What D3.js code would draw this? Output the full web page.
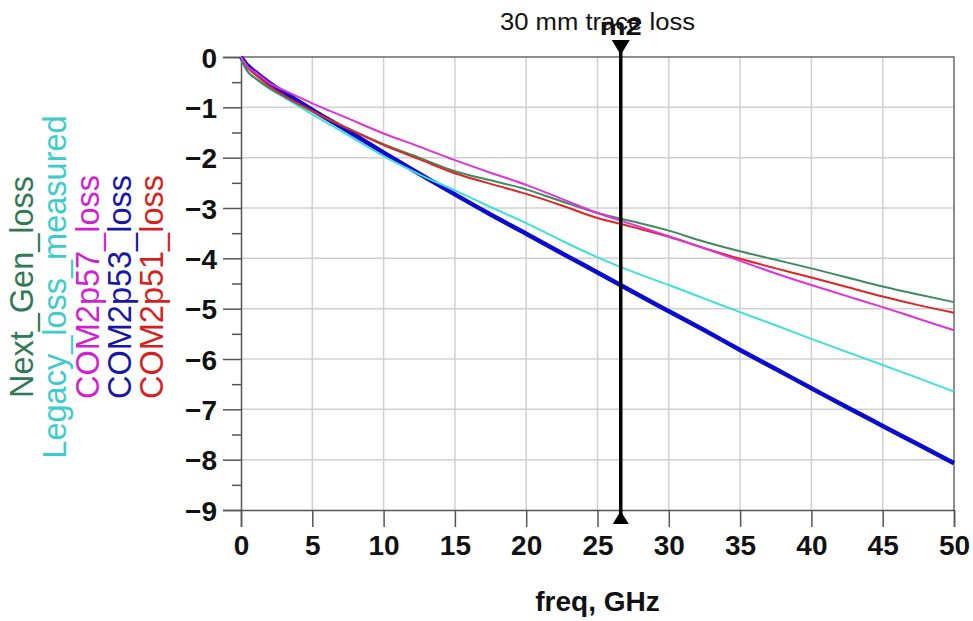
<!DOCTYPE html>
<html>
<head>
<meta charset="utf-8">
<script src="https://cdn.jsdelivr.net/npm/d3@7"></script>
<style>
  html, body { margin: 0; padding: 0; background: #fff; }
  svg { display: block; font-family: "Liberation Sans", Arial, sans-serif; }
</style>
</head>
<body>
<svg id="chart" width="973" height="621"></svg>
<script>
// Frequency sweep (GHz)
const freq = [0, 0.5, 1, 2, 3, 5, 7.5, 10, 12.5, 15, 17.5, 20, 22.5, 25, 27.5, 30, 32.5, 35, 37.5, 40, 42.5, 45, 47.5, 50];

// Insertion loss (dB) per trace model
const nextGenLoss   = [-0.05, -0.30, -0.42, -0.62, -0.78, -1.08, -1.42, -1.73, -2.00, -2.27, -2.45, -2.63, -2.87, -3.10, -3.27, -3.45, -3.67, -3.86, -4.03, -4.20, -4.38, -4.56, -4.72, -4.87];
const legacyMeasured = [-0.05, -0.30, -0.42, -0.63, -0.80, -1.14, -1.55, -1.97, -2.33, -2.65, -2.98, -3.30, -3.65, -3.98, -4.27, -4.53, -4.80, -5.07, -5.33, -5.60, -5.86, -6.12, -6.38, -6.65];
const com2p57Loss   = [0, -0.20, -0.30, -0.52, -0.66, -0.92, -1.22, -1.52, -1.78, -2.05, -2.30, -2.54, -2.82, -3.10, -3.33, -3.56, -3.80, -4.05, -4.30, -4.53, -4.75, -4.97, -5.20, -5.43];
const com2p53Loss   = [0, -0.18, -0.30, -0.52, -0.70, -1.05, -1.47, -1.90, -2.32, -2.73, -3.13, -3.51, -3.90, -4.28, -4.67, -5.05, -5.43, -5.82, -6.20, -6.58, -6.96, -7.33, -7.70, -8.07];
const com2p51Loss   = [0, -0.22, -0.35, -0.58, -0.76, -1.07, -1.42, -1.75, -2.03, -2.31, -2.52, -2.72, -2.95, -3.20, -3.38, -3.57, -3.80, -4.01, -4.20, -4.38, -4.57, -4.76, -4.93, -5.08];

const seriesNames  = ["Next_Gen_loss", "Legacy_loss_measured", "COM2p57_loss", "COM2p53_loss", "COM2p51_loss"];
const seriesValues = [nextGenLoss, legacyMeasured, com2p57Loss, com2p53Loss, com2p51Loss];
const lineColors   = ["#3d8b5e", "#3fe0dc", "#dd33dd", "#0a0ad0", "#e02424"];
const labelColors  = ["#2f7a55", "#3ccccc", "#d21fd2", "#1616a8", "#d81f1f"];
const lineWidths   = [2, 2, 2, 4.5, 2];
// Draw order: thin traces on top of the thick one
const drawOrder    = [3, 1, 0, 4, 2];

const xTicks = [0, 5, 10, 15, 20, 25, 30, 35, 40, 45, 50];
const yTicks = [0, -1, -2, -3, -4, -5, -6, -7, -8, -9];

const markerFreq  = 26.63;
const markerName  = "m2";
const plotTitle   = "30 mm trace loss";
const xAxisTitle  = "freq, GHz";

const svg = d3.select("#chart");
const plotLeft = 241, plotRight = 954, plotTop = 57, plotBottom = 510;

const x = d3.scaleLinear().domain([0, 50]).range([plotLeft, plotRight]);
const y = d3.scaleLinear().domain([0, -9]).range([plotTop, plotBottom]);

// Grid
const grid = svg.append("g");
grid.selectAll("line.gx").data(xTicks.slice(1, -1)).join("line")
  .attr("x1", d => x(d)).attr("x2", d => x(d))
  .attr("y1", plotTop).attr("y2", plotBottom)
  .attr("stroke", "#d0d0d0").attr("stroke-width", 1.5);
grid.selectAll("line.gy").data(yTicks.slice(1, -1)).join("line")
  .attr("x1", plotLeft).attr("x2", plotRight)
  .attr("y1", d => y(d)).attr("y2", d => y(d))
  .attr("stroke", "#d0d0d0").attr("stroke-width", 1.5);

// Frame (top and right edges)
svg.append("path")
  .attr("d", `M${plotLeft},${plotTop}H${plotRight}V${plotBottom}`)
  .attr("fill", "none").attr("stroke", "#6a6a6a").attr("stroke-width", 1.5);

// Y axis with half-unit minor ticks
const yAxis = svg.append("g").attr("transform", `translate(${plotLeft},0)`);
yAxis.call(d3.axisLeft(y).tickValues(yTicks).tickSize(18).tickPadding(6).tickFormat(d3.format("d")));
const yMinor = yAxis.append("g").call(d3.axisLeft(y).tickValues(d3.range(-0.5, -9, -1)).tickSize(9).tickFormat(""));
yMinor.select(".domain").remove();
yAxis.selectAll(".domain").attr("stroke", "#555").attr("stroke-width", 1.5);
yAxis.selectAll(".tick line").attr("stroke", "#555").attr("stroke-width", 1.5);
yAxis.selectAll(".tick text")
  .attr("font-size", 28).attr("font-weight", "bold").attr("fill", "#111")
  .attr("font-family", "Liberation Sans, Arial, sans-serif")
  .attr("dy", "0.36em");

// X axis
const xAxis = svg.append("g").attr("transform", `translate(0,${plotBottom})`);
xAxis.call(d3.axisBottom(x).tickValues(xTicks).tickSize(17).tickPadding(8).tickFormat(d3.format("d")));
xAxis.selectAll(".domain").attr("stroke", "#555").attr("stroke-width", 1.5);
xAxis.selectAll(".tick line").attr("stroke", "#555").attr("stroke-width", 1.5);
xAxis.selectAll(".tick text")
  .attr("font-size", 28).attr("font-weight", "bold").attr("fill", "#111")
  .attr("font-family", "Liberation Sans, Arial, sans-serif");

// Traces
const line = d3.line()
  .x((d, i) => x(freq[i]))
  .y(d => y(d))
  .curve(d3.curveMonotoneX);

svg.append("g").selectAll("path").data(drawOrder).join("path")
  .attr("d", k => line(seriesValues[k]))
  .attr("fill", "none")
  .attr("stroke", k => lineColors[k])
  .attr("stroke-width", k => lineWidths[k])
  .attr("stroke-linejoin", "round");

// Marker line with triangles
const mx = x(markerFreq);
svg.append("line")
  .attr("x1", mx).attr("x2", mx).attr("y1", 44).attr("y2", 515)
  .attr("stroke", "#000").attr("stroke-width", 3.5);
svg.append("path")
  .attr("d", `M${mx - 9},40 L${mx + 9},40 L${mx},55 Z`).attr("fill", "#000");
svg.append("path")
  .attr("d", `M${mx - 8},524 L${mx + 8},524 L${mx},511 Z`).attr("fill", "#000");

// Title and marker name (the marker name sits over the title, as drawn by the simulator)
svg.append("text")
  .attr("x", (plotLeft + plotRight) / 2).attr("y", 30)
  .attr("text-anchor", "middle")
  .attr("font-size", 23).attr("fill", "#111")
  .attr("textLength", 195).attr("lengthAdjust", "spacingAndGlyphs")
  .text(plotTitle);
svg.append("text")
  .attr("x", mx).attr("y", 35)
  .attr("text-anchor", "middle")
  .attr("font-size", 23).attr("font-weight", "bold").attr("fill", "#111")
  .attr("textLength", 42).attr("lengthAdjust", "spacingAndGlyphs")
  .text(markerName);

// X axis title
svg.append("text")
  .attr("x", (plotLeft + plotRight) / 2).attr("y", 611)
  .attr("text-anchor", "middle")
  .attr("font-size", 28).attr("font-weight", "bold").attr("fill", "#111")
  .text(xAxisTitle);

// Rotated legend labels
const legendBase = [33, 66, 99, 131, 163];
svg.append("g").selectAll("text").data(seriesNames).join("text")
  .attr("transform", (d, i) => `translate(${legendBase[i]},287) rotate(-90)`)
  .attr("text-anchor", "middle")
  .attr("font-size", 32.5)
  .attr("fill", (d, i) => labelColors[i])
  .text(d => d);
</script>
</body>
</html>
